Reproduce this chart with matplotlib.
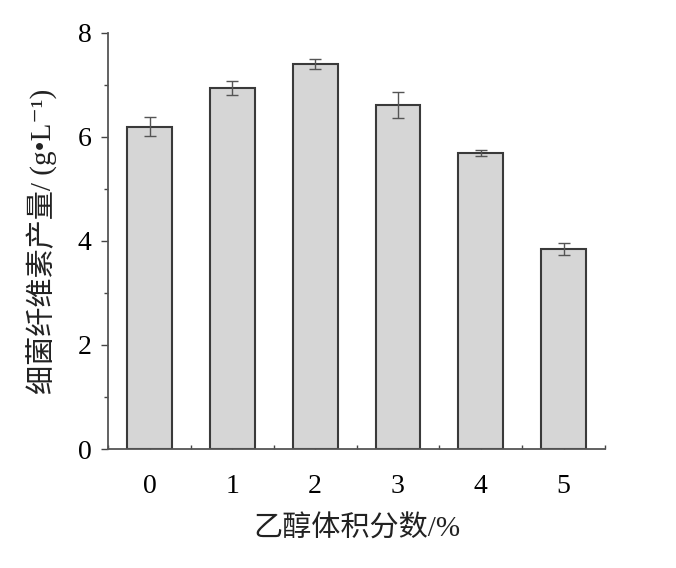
import numpy as np
import matplotlib
matplotlib.use('Agg')
from matplotlib import pyplot as plt
from matplotlib.ticker import MultipleLocator

# ethanol volume fraction (%) vs bacterial cellulose yield
categories = ['0', '1', '2', '3', '4', '5']
yields = [6.20, 6.94, 7.40, 6.62, 5.69, 3.85]
errors = [0.19, 0.13, 0.09, 0.25, 0.05, 0.12]

serif = ['Liberation Serif', 'Noto Sans CJK SC', 'DejaVu Sans']

fig = plt.figure(figsize=(6.76, 5.68), dpi=100)
ax = fig.add_axes([0.16, 0.2095, 0.735, 0.7325])

x = np.arange(len(categories))
ax.bar(x, yields, width=0.54, color='#d6d6d6', edgecolor='#3a3a3a', linewidth=1.5, zorder=2)
ax.errorbar(x, yields, yerr=errors, fmt='none', ecolor='#555555',
            elinewidth=1.0, capsize=4, capthick=1.0, zorder=3)

ax.set_xlim(-0.5, 5.5)
ax.set_ylim(0, 8)
ax.set_xticks(x)
ax.set_xticklabels(categories, family=serif, fontsize=20)
ax.set_yticks([0, 2, 4, 6, 8])
ax.set_yticklabels(['0', '2', '4', '6', '8'], family=serif, fontsize=20)
ax.xaxis.set_minor_locator(MultipleLocator(1, offset=0.5))
ax.yaxis.set_minor_locator(MultipleLocator(1))

ax.tick_params(axis='x', which='major', direction='in', length=5, width=1, color='#444444', pad=18)
ax.tick_params(axis='x', which='minor', direction='in', length=3, width=1, color='#444444')
ax.tick_params(axis='y', which='major', direction='out', length=5, width=1, color='#444444', pad=7)
ax.tick_params(axis='y', which='minor', direction='out', length=3, width=1, color='#444444')

for s in ['top', 'right']:
    ax.spines[s].set_visible(False)
for s in ['left', 'bottom']:
    ax.spines[s].set_color('#555555')
    ax.spines[s].set_linewidth(1.3)

ax.set_xlabel('乙醇体积分数/%', family=serif, fontsize=21, color='#222222', labelpad=12)
ax.set_ylabel('细菌纤维素产量/ (g•L⁻¹)', family=serif, fontsize=21, color='#222222', labelpad=14)

fig.savefig('out.png', dpi=100)
